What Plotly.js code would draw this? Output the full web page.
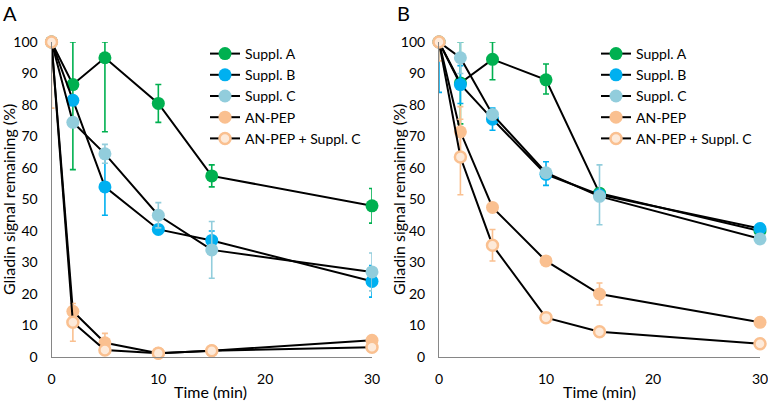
<!DOCTYPE html>
<html>
<head>
<meta charset="utf-8">
<script src="https://cdn.plot.ly/plotly-3.0.1.min.js"></script>
<style>html,body{margin:0;padding:0;background:#fff;}#chart{width:768px;height:404px;}</style>
</head>
<body>
<div id="chart"></div>
<script>
// ---- Data ----
const time = [0, 2, 5, 10, 15, 30];
const seriesNames = ["Suppl. A", "Suppl. B", "Suppl. C", "AN-PEP", "AN-PEP + Suppl. C"];

// Panel A
const aSupplA = [100, 86.5, 95, 80.5, 57.5, 48];
const aSupplAUp = [0, 13.5, 5, 6, 3.5, 5.5];
const aSupplADn = [0, 27, 23.5, 6, 3.5, 5.5];
const aSupplB = [100, 81.5, 54, 40.5, 37, 24];
const aSupplBUp = [0, 0, 9, 1, 3, 5];
const aSupplBDn = [0, 0, 9, 1, 3, 5];
const aSupplC = [100, 74.5, 64.5, 45, 34, 27];
const aSupplCUp = [0, 0, 3, 4, 9, 6];
const aSupplCDn = [0, 0, 3, 4, 9, 6];
const aAnpep = [100, 14.5, 4.5, 1.2, 2, 5.3];
const aAnpepUp = [0, 0, 3, 0, 0, 0];
const aAnpepDn = [21, 0, 3, 0, 0, 0];
const aCombo = [100, 11, 2.2, 1.2, 2, 3.1];
const aComboUp = [0, 6, 0, 0, 0, 0];
const aComboDn = [0, 6, 0, 0, 0, 0];

// Panel B
const bSupplA = [100, 87, 94.5, 88, 52, 40];
const bSupplAUp = [0, 13, 5.5, 5, 0, 0];
const bSupplADn = [0, 13, 6.5, 4.5, 0, 0];
const bSupplB = [100, 86.5, 75.5, 58, 51.5, 40.8];
const bSupplBUp = [0, 6, 3.5, 4, 0, 0];
const bSupplBDn = [16, 6, 3.5, 3.5, 0, 0];
const bSupplC = [100, 95, 77, 58.5, 51, 37.5];
const bSupplCUp = [0, 5, 0, 0, 10, 0];
const bSupplCDn = [0, 5, 0, 0, 9, 0];
const bAnpep = [100, 71.5, 47.5, 30.5, 20, 11];
const bAnpepUp = [0, 8, 0, 0, 3.5, 0];
const bAnpepDn = [6, 8, 0, 0, 3.5, 0];
const bCombo = [100, 63.5, 35.5, 12.5, 8, 4.2];
const bComboUp = [0, 12, 5, 0, 0, 0];
const bComboDn = [0, 12, 5, 0, 0, 0];

const colors = ["#00B050", "#00B0F0", "#92CDDC", "#FAC090", "#FAC090"];
const fills  = ["#00B050", "#00B0F0", "#92CDDC", "#FAC090", "#FDEADA"];

function mk(name, idx, y, up, dn, xa, ya, leg) {
  const open = idx === 4;
  return {
    type: "scatter", mode: "lines+markers", name: name,
    x: time, y: y, xaxis: xa, yaxis: ya, legend: leg,
    cliponaxis: false,
    line: {color: "#000000", width: 2},
    marker: {size: open ? 11 : 13, color: fills[idx],
             line: {color: colors[idx], width: open ? 2.5 : 0}},
    error_y: {type: "data", symmetric: false, array: up, arrayminus: dn,
              color: colors[idx], thickness: 1.6, width: 3},
    legendgroup: leg + idx
  };
}

const data = [
  mk(seriesNames[0], 0, aSupplA, aSupplAUp, aSupplADn, "x", "y", "legend"),
  mk(seriesNames[1], 1, aSupplB, aSupplBUp, aSupplBDn, "x", "y", "legend"),
  mk(seriesNames[2], 2, aSupplC, aSupplCUp, aSupplCDn, "x", "y", "legend"),
  mk(seriesNames[3], 3, aAnpep, aAnpepUp, aAnpepDn, "x", "y", "legend"),
  mk(seriesNames[4], 4, aCombo, aComboUp, aComboDn, "x", "y", "legend"),
  mk(seriesNames[0], 0, bSupplA, bSupplAUp, bSupplADn, "x2", "y2", "legend2"),
  mk(seriesNames[1], 1, bSupplB, bSupplBUp, bSupplBDn, "x2", "y2", "legend2"),
  mk(seriesNames[2], 2, bSupplC, bSupplCUp, bSupplCDn, "x2", "y2", "legend2"),
  mk(seriesNames[3], 3, bAnpep, bAnpepUp, bAnpepDn, "x2", "y2", "legend2"),
  mk(seriesNames[4], 4, bCombo, bComboUp, bComboDn, "x2", "y2", "legend2")
];

const W = 768, H = 404;
const fam = "Lato, 'Open Sans', sans-serif";
const font = {family: fam, size: 14, color: "#000"};
const titleFont = {family: fam, size: 16, color: "#000"};
const yDom = [(H - 357) / H, (H - 42) / H];

function xax(dom) {
  return {domain: dom, range: [0, 30], tickvals: [0, 10, 20, 30], showgrid: false,
          zeroline: false, showline: true, linecolor: "#868686", linewidth: 1,
          ticks: "", ticklabelstandoff: 9, ticklabeloverflow: "allow",
          tickfont: font, fixedrange: true};
}
function yax(anchor) {
  return {domain: yDom, range: [0, 100], tickvals: [0,10,20,30,40,50,60,70,80,90,100],
          showgrid: false, zeroline: false, showline: true, linecolor: "#868686",
          linewidth: 1, ticks: "", ticklabelstandoff: 10, ticklabeloverflow: "allow",
          tickfont: font, anchor: anchor, fixedrange: true};
}

const legendBase = {
  yanchor: "top", xanchor: "left", bgcolor: "rgba(0,0,0,0)",
  font: font, tracegroupgap: 0, itemclick: false
};

function ann(text, x, y, f, angle) {
  return {text: text, x: x / W, y: (H - y) / H, xref: "paper", yref: "paper",
          xanchor: "center", yanchor: "middle", showarrow: false,
          textangle: angle || 0, font: f};
}
function panelLabel(text, x) {
  return {text: text, x: x / W, y: 1, xref: "paper", yref: "paper",
          xanchor: "center", yanchor: "top", showarrow: false, borderpad: 0,
          font: {family: fam, size: 20, color: "#000"}};
}

const layout = {
  width: W, height: H,
  margin: {l: 0, r: 0, t: 0, b: 0},
  paper_bgcolor: "#fff", plot_bgcolor: "rgba(0,0,0,0)",
  font: font,
  showlegend: true,
  xaxis: Object.assign(xax([51.5 / W, 372 / W]), {anchor: "y"}),
  yaxis: yax("x"),
  xaxis2: Object.assign(xax([439 / W, 760 / W]), {anchor: "y2"}),
  yaxis2: yax("x2"),
  legend: Object.assign({x: 205 / W, y: (H - 38) / H}, legendBase),
  legend2: Object.assign({x: 596 / W, y: (H - 38) / H}, legendBase),
  annotations: [
    panelLabel("A", 10),
    panelLabel("B", 403),
    ann("Gliadin signal remaining (%)", 8, 200, titleFont, -90),
    ann("Gliadin signal remaining (%)", 398, 200, titleFont, -90),
    ann("Time (min)", 210, 391, titleFont),
    ann("Time (min)", 599, 391, titleFont)
  ]
};

Plotly.newPlot("chart", data, layout, {displayModeBar: false, staticPlot: true});
</script>
</body>
</html>
